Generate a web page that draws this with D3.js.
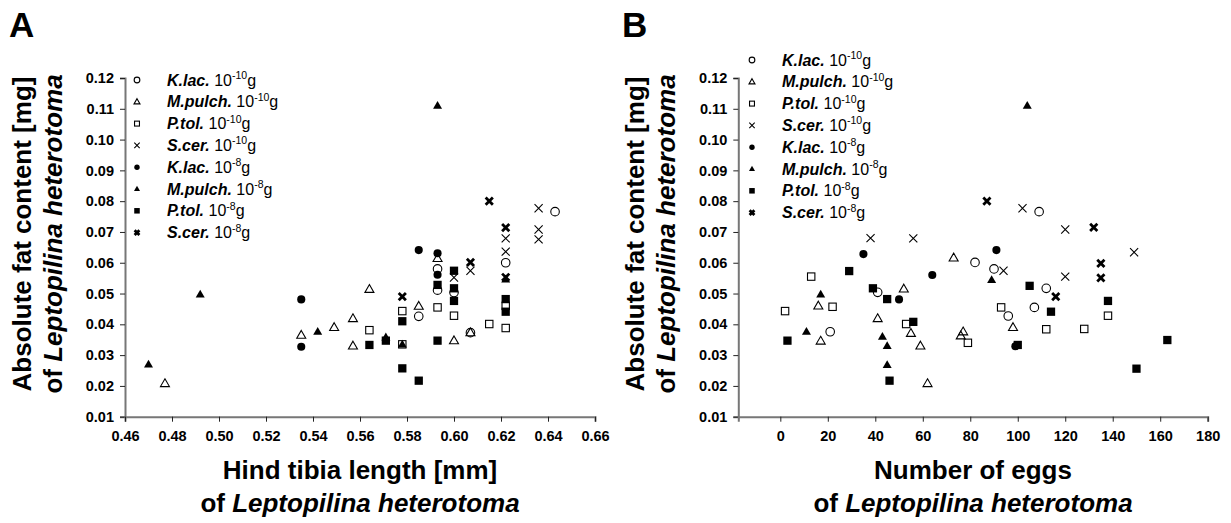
<!DOCTYPE html>
<html><head><meta charset="utf-8">
<script src="https://cdn.jsdelivr.net/npm/d3@7"></script>
<style>
body{margin:0;background:#fff;}
svg{display:block;font-family:"Liberation Sans",Arial,sans-serif;}
</style></head><body>
<svg id="c" width="1231" height="523"></svg>
<script>
// ---- Data: [value on x, absolute fat content mg] ----
const yTicks = [0.01,0.02,0.03,0.04,0.05,0.06,0.07,0.08,0.09,0.10,0.11,0.12];
const xTicksA = [0.46,0.48,0.50,0.52,0.54,0.56,0.58,0.60,0.62,0.64,0.66];
const xTicksB = [0,20,40,60,80,100,120,140,160,180];
const speciesNames = ["K.lac.","M.pulch.","P.tol.","S.cer.","K.lac.","M.pulch.","P.tol.","S.cer."];
const doseExp = ["-10","-10","-10","-10","-8","-8","-8","-8"];
const markerTypes = ["circleOpen","triOpen","squareOpen","xThin","circleFill","triFill","squareFill","xBold"];

// Panel A: hind tibia length [mm]
const klac10_A = [[0.585,0.0426],[0.593,0.0580],[0.593,0.0511],[0.600,0.0503],[0.607,0.0373],[0.622,0.0600],[0.643,0.0766]];
const mpul10_A = [[0.477,0.0208],[0.535,0.0365],[0.549,0.0390],[0.557,0.0419],[0.557,0.0330],[0.564,0.0514],[0.585,0.0459],[0.593,0.0614],[0.600,0.0347],[0.607,0.0373]];
const ptol10_A = [[0.564,0.0381],[0.578,0.0443],[0.578,0.0335],[0.593,0.0455],[0.600,0.0428],[0.615,0.0401],[0.622,0.0460],[0.622,0.0388]];
const scer10_A = [[0.600,0.0552],[0.607,0.0574],[0.622,0.0679],[0.622,0.0636],[0.636,0.0777],[0.636,0.0708],[0.636,0.0676]];
const klac8_A = [[0.535,0.0481],[0.535,0.0327],[0.585,0.0641],[0.593,0.0631],[0.593,0.0561]];
const mpul8_A = [[0.470,0.0270],[0.492,0.0497],[0.542,0.0376],[0.571,0.0358],[0.578,0.0335],[0.593,0.1110],[0.622,0.0546]];
const ptol8_A = [[0.564,0.0333],[0.571,0.0347],[0.578,0.0410],[0.578,0.0257],[0.585,0.0217],[0.593,0.0528],[0.593,0.0347],[0.600,0.0574],[0.600,0.0517],[0.600,0.0476],[0.622,0.0482],[0.622,0.0441]];
const scer8_A = [[0.578,0.0490],[0.607,0.0601],[0.615,0.0800],[0.622,0.0714],[0.622,0.0553]];

// Panel B: number of eggs
const klac10_B = [[109,0.0766],[82,0.0601],[90,0.0580],[112,0.0517],[41,0.0504],[107,0.0455],[96,0.0427],[21,0.0376]];
const mpul10_B = [[73,0.0616],[52,0.0515],[16,0.0460],[41,0.0419],[17,0.0346],[55,0.0371],[59,0.0330],[62,0.0208],[77,0.0376],[76,0.0363],[98,0.0390]];
const ptol10_B = [[13,0.0555],[2,0.0443],[22,0.0457],[53,0.0401],[93,0.0455],[138,0.0428],[79,0.0340],[112,0.0384],[128,0.0385]];
const scer10_B = [[102,0.0777],[120,0.0708],[149,0.0634],[38,0.0680],[56,0.0679],[94,0.0574],[120,0.0555]];
const klac8_B = [[35,0.0628],[91,0.0641],[64,0.0560],[50,0.0481],[99,0.0329]];
const mpul8_B = [[104,0.1110],[89,0.0544],[17,0.0497],[11,0.0376],[43,0.0360],[45,0.0330],[45,0.0268]];
const ptol8_B = [[29,0.0573],[105,0.0525],[39,0.0517],[45,0.0482],[56,0.0408],[114,0.0441],[138,0.0476],[3,0.0347],[46,0.0217],[100,0.0333],[163,0.0349],[150,0.0256]];
const scer8_B = [[87,0.0800],[132,0.0715],[135,0.0598],[135,0.0551],[116,0.0490]];

const seriesA = [klac10_A,mpul10_A,ptol10_A,scer10_A,klac8_A,mpul8_A,ptol8_A,scer8_A];
const seriesB = [klac10_B,mpul10_B,ptol10_B,scer10_B,klac8_B,mpul8_B,ptol8_B,scer8_B];

const svg = d3.select("#c");

function drawMarker(g, type, cx, cy, s){
  const h = s/2;
  if(type==="circleOpen") g.append("circle").attr("cx",cx).attr("cy",cy).attr("r",h*0.95).attr("fill","none").attr("stroke","#000").attr("stroke-width",1.1);
  else if(type==="circleFill") g.append("circle").attr("cx",cx).attr("cy",cy).attr("r",h*0.9).attr("fill","#000");
  else if(type==="triOpen"||type==="triFill"){
    const th = s*0.87;
    const p = `M${cx},${cy-th*0.6}L${cx+h},${cy+th*0.4}L${cx-h},${cy+th*0.4}Z`;
    const e = g.append("path").attr("d",p);
    if(type==="triOpen") e.attr("fill","none").attr("stroke","#000").attr("stroke-width",1.1);
    else e.attr("fill","#000");
  } else if(type==="squareOpen"){
    const q=h*0.82;
    g.append("rect").attr("x",cx-q).attr("y",cy-q).attr("width",2*q).attr("height",2*q).attr("fill","none").attr("stroke","#000").attr("stroke-width",1.1);
  } else if(type==="squareFill"){
    const q=h*0.92;
    g.append("rect").attr("x",cx-q).attr("y",cy-q).attr("width",2*q).attr("height",2*q).attr("fill","#000");
  } else if(type==="xThin"||type==="xBold"){
    const q = type==="xThin"? h*0.9 : h*0.8;
    g.append("path").attr("d",`M${cx-q},${cy-q}L${cx+q},${cy+q}M${cx-q},${cy+q}L${cx+q},${cy-q}`)
      .attr("stroke","#000").attr("stroke-width",type==="xThin"?1.1:2.8).attr("fill","none");
  }
}

function panel(opt){
  const {x, y, xTicks, xFmt, series, letter, letterX, legX, legY, xTitle1, yTitleX, titleCx} = opt;
  const g = svg.append("g");
  const ya = g.append("g").attr("transform",`translate(${x.range()[0]},0)`)
    .call(d3.axisLeft(y).tickValues(yTicks).tickFormat(d3.format(".2f")).tickSizeOuter(0).tickSize(5).tickPadding(6));
  const xa = g.append("g").attr("transform",`translate(0,${y.range()[0]})`)
    .call(d3.axisBottom(x).tickValues(xTicks).tickFormat(xFmt).tickSizeOuter(0).tickSize(5).tickPadding(9));
  [ya,xa].forEach(a=>{
    a.select(".domain").attr("stroke","#777").attr("stroke-width",2);
    a.selectAll(".tick line").attr("stroke","#222").attr("stroke-width",1);
    a.selectAll(".tick text").attr("font-family","Liberation Sans, Arial, sans-serif").attr("font-weight","bold").attr("font-size",14.5).attr("fill","#000");
  });
  const mg = g.append("g");
  series.forEach((arr,i)=>{
    arr.forEach(d=>drawMarker(mg, markerTypes[i], x(d[0]), y(d[1]), 9));
  });
  const lg = g.append("g");
  speciesNames.forEach((nm,i)=>{
    const ry = legY + i*21.8;
    drawMarker(lg, markerTypes[i], legX, ry, 6);
    const t = lg.append("text").attr("x",legX+30).attr("y",ry+5.5).attr("font-size",16).attr("fill","#000");
    t.append("tspan").attr("font-weight","bold").attr("font-style","italic").text(nm);
    t.append("tspan").text(" 10");
    t.append("tspan").attr("font-size",10.5).attr("dy",-6.5).text(doseExp[i]);
    t.append("tspan").attr("dy",6.5).text("g");
  });
  g.append("text").attr("x",letterX).attr("y",37).attr("font-size",35).attr("font-weight","bold").text(letter);
  const cx = titleCx;
  g.append("text").attr("x",cx).attr("y",479).attr("text-anchor","middle").attr("font-size",26).attr("font-weight","bold").text(xTitle1);
  const t2 = g.append("text").attr("x",cx).attr("y",512).attr("text-anchor","middle").attr("font-size",26).attr("font-weight","bold");
  t2.append("tspan").text("of ");
  t2.append("tspan").attr("font-style","italic").text("Leptopilina heterotoma");
  const yc = 234;
  g.append("text").attr("transform",`translate(${yTitleX},${yc}) rotate(-90)`).attr("text-anchor","middle").attr("font-size",26).attr("font-weight","bold").text("Absolute fat content [mg]");
  const t3 = g.append("text").attr("transform",`translate(${yTitleX+31},${yc}) rotate(-90)`).attr("text-anchor","middle").attr("font-size",26).attr("font-weight","bold");
  t3.append("tspan").text("of ");
  t3.append("tspan").attr("font-style","italic").text("Leptopilina heterotoma");
}

const yA = d3.scaleLinear().domain([0.01,0.12]).range([416.7,78]);
const xA = d3.scaleLinear().domain([0.46,0.66]).range([125,595]);
const xB = d3.scaleLinear().domain([-17.7,180]).range([738.3,1207.7]);

panel({x:xA, y:yA, xTicks:xTicksA, xFmt:d3.format(".2f"), series:seriesA, letter:"A", letterX:9,
  legX:137, legY:80, xTitle1:"Hind tibia length [mm]", yTitleX:31, titleCx:360});
panel({x:xB, y:yA, xTicks:xTicksB, xFmt:d3.format("d"), series:seriesB, letter:"B", letterX:622,
  legX:752, legY:60, xTitle1:"Number of eggs", yTitleX:644, titleCx:973});
</script>
</body></html>
